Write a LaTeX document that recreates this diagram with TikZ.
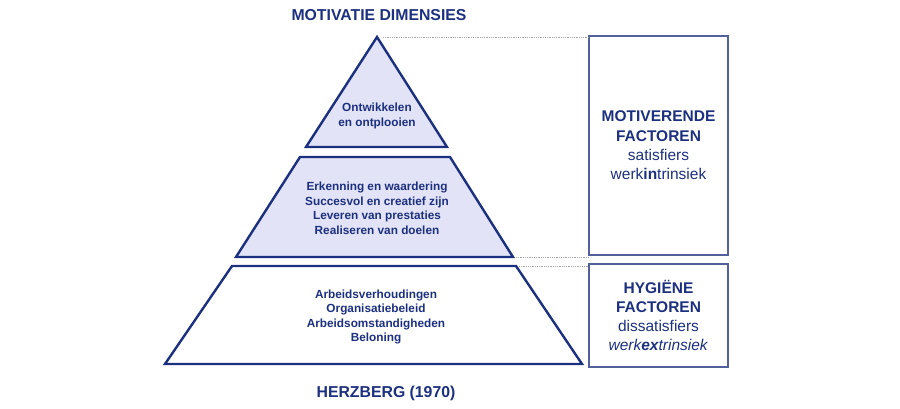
\documentclass[tikz,border=0pt]{standalone}
\usepackage{fontspec}
\setmainfont{Liberation Sans}
\definecolor{navy}{RGB}{28,48,128}
\definecolor{lavender}{RGB}{226,227,246}
\definecolor{boxline}{RGB}{82,96,156}
\tikzset{
  level/.style={draw=navy,line width=2.4pt,line join=miter},
  levtext/.style={text=navy,align=center,font=\fontsize{11.8}{14.5}\selectfont\bfseries},
  factor/.style={draw=boxline,line width=1.3pt,minimum width=139pt,text=navy,align=center,font=\fontsize{15.5}{19.3}\selectfont},
  title/.style={text=navy,font=\fontsize{15.8}{18}\selectfont\bfseries},
  guide/.style={draw=gray!70,densely dotted,line width=0.8pt}
}
\begin{document}
\begin{tikzpicture}[x=1pt,y=-1pt]
    \useasboundingbox (0,0) rectangle (900,409);

    % pyramid corners
    \coordinate (apex) at (377,37);
    \coordinate (tl) at (306,147);
    \coordinate (tr) at (447,147);
    \coordinate (ml1) at (300,157);
    \coordinate (mr1) at (450,157);
    \coordinate (mr2) at (513,257);
    \coordinate (ml2) at (236,257);
    \coordinate (bl1) at (232,266);
    \coordinate (br1) at (516,266);
    \coordinate (br2) at (582,364);
    \coordinate (bl2) at (165,364);

    \draw[level,fill=lavender] (apex) -- (tr) -- (tl) -- cycle;
    \draw[level,fill=lavender] (ml1) -- (mr1) -- (mr2) -- (ml2) -- cycle;
    \draw[level] (bl1) -- (br1) -- (br2) -- (bl2) -- cycle;

    \node[levtext] (top) at (377,116) {Ontwikkelen\\en ontplooien};
    \node[levtext] (mid) at (377,208.5) {Erkenning en waardering\\Succesvol en creatief zijn\\Leveren van prestaties\\Realiseren van doelen};
    \node[levtext] (low) at (376,317) {Arbeidsverhoudingen\\Organisatiebeleid\\Arbeidsomstandigheden\\Beloning};

    % factor boxes
    \node[factor,minimum height=219pt] (mot) at (658.5,145.5) {\textbf{MOTIVERENDE}\\\textbf{FACTOREN}\\satisfiers\\werk\textbf{in}trinsiek};
    \node[factor,minimum height=103pt] (hyg) at (658.5,315.5) {\textbf{HYGIËNE}\\\textbf{FACTOREN}\\dissatisfiers\\\textit{werk\textbf{ex}trinsiek}};

    \draw[guide] ([xshift=6pt]apex) -- (apex -| mot.west);
    \draw[guide] ([xshift=3pt]mr2) -- (mr2 -| mot.west);
    \draw[guide] ([xshift=3pt]br1) -- (br1 -| hyg.west);

    \node[title] (head) at (379,15) {MOTIVATIE DIMENSIES};
    \node[title] (foot) at (386,393) {HERZBERG (1970)};
  \end{tikzpicture}
\end{document}
